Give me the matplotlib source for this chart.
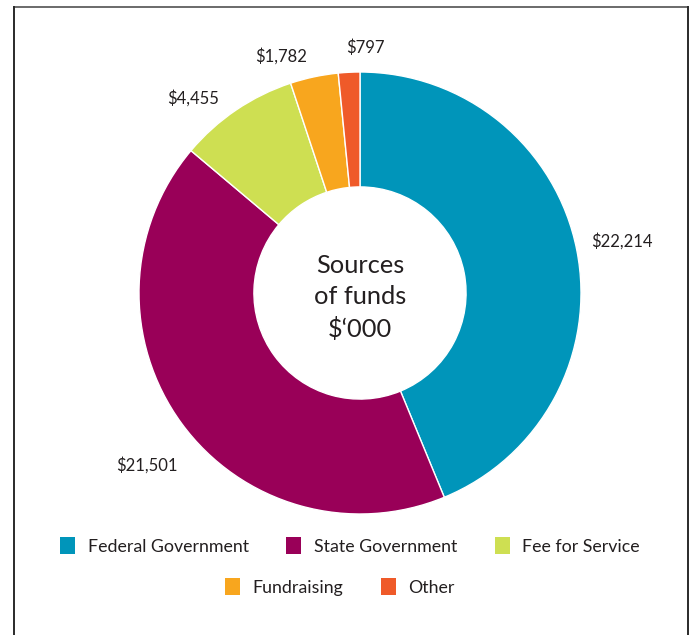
import numpy as np
import matplotlib.pyplot as plt
from matplotlib.lines import Line2D
from matplotlib.patches import Patch

# funding sources, $'000
sources = ['Federal Government', 'State Government', 'Fee for Service',
           'Fundraising', 'Other']
amounts = [22214, 21501, 4455, 1782, 797]
value_labels = ['$22,214', '$21,501', '$4,455', '$1,782', '$797']
colours = ['#0095BA', '#990058', '#CEDF52', '#F8A61E', '#EF5A29']

# label placement: distance (x radius) and angle nudge (deg) off the wedge middle
label_dist = [1.21, 1.24, 1.16, 1.13, 1.11]
label_nudge = [0, 2.8, 6.6, 6.5, -4.2]

plt.rcParams['font.family'] = ['Lato', 'DejaVu Sans']
text_col = '#231F20'

fig = plt.figure(figsize=(6.93, 6.35), dpi=100)

# frame round the chart (bottom edge runs off the image)
W, H = 693, 635
fx = lambda p: p / W
fy = lambda p: 1 - p / H
fig.add_artist(Line2D([fx(13.5), fx(688)], [fy(7), fy(7)], transform=fig.transFigure,
                      color='#6a6a6a', linewidth=1.4))
fig.add_artist(Line2D([fx(13.5), fx(13.5)], [fy(7), 0], transform=fig.transFigure,
                      color='#2a2a2a', linewidth=1.4))
fig.add_artist(Line2D([fx(688), fx(688)], [fy(7), 0], transform=fig.transFigure,
                      color='#2a2a2a', linewidth=1.4))

ax = fig.add_axes([fx(139), 121 / H, 442 / W, 442 / H])
wedges, _ = ax.pie(amounts, colors=colours, startangle=90, counterclock=False,
                   radius=1, wedgeprops=dict(width=0.52, edgecolor='white',
                                             linewidth=1))
ax.set_xlim(-1, 1)
ax.set_ylim(-1, 1)
ax.set_aspect('equal')
ax.axis('off')

for w, lab, d, n in zip(wedges, value_labels, label_dist, label_nudge):
    ang = np.deg2rad((w.theta1 + w.theta2) / 2 + n)
    ax.text(d * np.cos(ang), d * np.sin(ang), lab, ha='center', va='center',
            fontsize=12, color=text_col)

ax.text(0, -0.02, "Sources\nof funds\n$\u2018000", ha='center', va='center',
        fontsize=18.3, color=text_col, linespacing=1.42)

handles = [Patch(facecolor=c, edgecolor='none') for c in colours]
leg_kw = dict(loc='center', frameon=False, fontsize=12.8, handlelength=0.85,
              handleheight=1.1, handletextpad=0.7, columnspacing=2.1,
              labelcolor=text_col)
leg1 = fig.legend(handles[:3], sources[:3], ncol=3,
                  bbox_to_anchor=(fx(350), fy(546)), **leg_kw)
leg2 = fig.legend(handles[3:], sources[3:], ncol=2,
                  bbox_to_anchor=(fx(340), fy(587)), **leg_kw)

fig.savefig('out.png', dpi=100)
